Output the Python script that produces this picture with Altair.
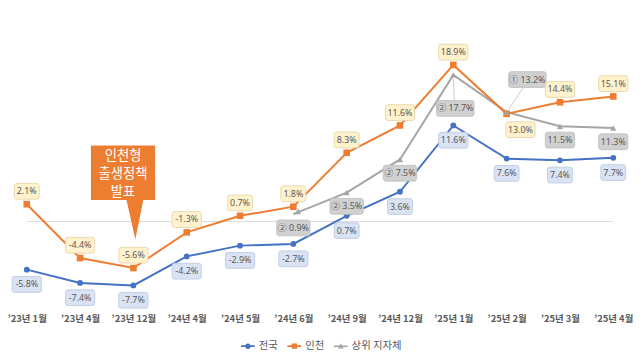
import altair as alt
import pandas as pd

# ---------------- data ----------------
categories = ["’23년 1월", "’23년 4월", "’23년 12월", "’24년 4월", "’24년 5월", "’24년 6월",
              "’24년 9월", "’24년 12월", "’25년 1월", "’25년 2월", "’25년 3월", "’25년 4월"]
national = [-5.8, -7.4, -7.7, -4.2, -2.9, -2.7, 0.7, 3.6, 11.6, 7.6, 7.4, 7.7]
incheon = [2.1, -4.4, -5.6, -1.3, 0.7, 1.8, 8.3, 11.6, 18.9, 13.0, 14.4, 15.1]
top_categories = categories[5:]
top_values = [0.9, 3.5, 7.5, 17.7, 13.2, 11.5, 11.3]
top_ranks = ["②", "②", "②", "②", "①", "", ""]
series_names = ["전국", "인천", "상위 지자체"]
callout_lines = ["인천형", "출생정책", "발표"]

# ---------------- style ----------------
BLUE, ORANGE, GRAY = "#4472C4", "#ED7D31", "#A5A5A5"
TEXT = "#595959"
FONT = "Noto Sans CJK KR"
NUMFONT = "Noto Sans, Noto Sans CJK KR, sans-serif"

nat_place = [(0, 15)] * 12
inc_place = [(0, -13)] * 9 + [(14, 16)] + [(0, -13)] * 2
top_place = [(0, 14), (0, 14), (0, 14), (2, 34), (21, -33), (0, 14), (0, 14)]
callout_dy = [-113, -95, -77]


def rbox(w, h, cx, cy, r=2.5):
    x0, x1 = cx - w / 2, cx + w / 2
    y0, y1 = cy - h / 2, cy + h / 2
    f = lambda v: f"{v:.1f}"
    return (f"M{f(x0 + r)},{f(y0)}H{f(x1 - r)}Q{f(x1)},{f(y0)},{f(x1)},{f(y0 + r)}"
            f"V{f(y1 - r)}Q{f(x1)},{f(y1)},{f(x1 - r)},{f(y1)}H{f(x0 + r)}"
            f"Q{f(x0)},{f(y1)},{f(x0)},{f(y1 - r)}V{f(y0 + r)}Q{f(x0)},{f(y0)},{f(x0 + r)},{f(y0)}Z")


def label_frame(cats, vals, labels, places, fill, stroke):
    rows = []
    for c, v, l, (dx, dy) in zip(cats, vals, labels, places):
        w = 8 + 4.3 * len(l)
        rows.append(dict(cat=c, value=v, label=l, dx=dx, dy=dy,
                         path=rbox(w, 16, dx, dy), fill=fill, stroke=stroke))
    return pd.DataFrame(rows)


nat_labels = [f"{v:.1f}%" for v in national]
inc_labels = [f"{v:.1f}%" for v in incheon]
top_labels = [(r + " " if r else "") + f"{v:.1f}%" for r, v in zip(top_ranks, top_values)]

lab_df = pd.concat([
    label_frame(top_categories, top_values, top_labels, top_place, "#D0D0D0", "#BDBDBD"),
    label_frame(categories, national, nat_labels, nat_place, "#DAE3F3", "#B9C6DE"),
    label_frame(categories, incheon, inc_labels, inc_place, "#FFF2CC", "#E3D3A3"),
], ignore_index=True)

nat_df = pd.DataFrame({"cat": categories, "value": national, "idx": range(len(categories))})
inc_df = pd.DataFrame({"cat": categories, "value": incheon, "idx": range(len(categories))})
top_df = pd.DataFrame({"cat": top_categories, "value": top_values, "idx": range(len(top_categories))})

xscale = alt.Scale(type="point", domain=categories, padding=0.352)
xaxis = alt.Axis(title=None, labelAngle=0, domain=False, ticks=False, grid=False,
                 labelFont=FONT, labelFontSize=9.5, labelFontWeight="bold",
                 labelColor=TEXT, labelPadding=9)
X = alt.X("cat:N", scale=xscale, axis=xaxis)
Y = alt.Y("value:Q", scale=alt.Scale(domain=[-10, 25.5], nice=False, zero=False), axis=None)

layers = []

# zero line from first to last category
zero_df = pd.DataFrame({"cat": [categories[0]], "cat2": [categories[-1]], "value": [0]})
layers.append(alt.Chart(zero_df).mark_rule(color="#D9D9D9", strokeWidth=1).encode(
    x=X, x2="cat2:N", y=Y))

# lines
for df, col in [(top_df, GRAY), (nat_df, BLUE), (inc_df, ORANGE)]:
    layers.append(alt.Chart(df).mark_line(color=col, strokeWidth=2).encode(
        x=X, y=Y, order="idx:Q"))

# markers
layers.append(alt.Chart(nat_df).mark_point(shape="circle", filled=True, size=34, color=BLUE,
                                           opacity=1).encode(x=X, y=Y))
layers.append(alt.Chart(inc_df).mark_point(shape="square", filled=True, size=45, color=ORANGE,
                                           opacity=1).encode(x=X, y=Y))
layers.append(alt.Chart(top_df.iloc[1:]).mark_point(shape="triangle-up", filled=True, size=40,
                                                    color=GRAY, opacity=1).encode(x=X, y=Y))
layers.append(alt.Chart(top_df.iloc[:1]).mark_point(shape="M0,0L7.6,0.2L5.4,-5.4Z", filled=True,
                                                    size=4, color=GRAY, opacity=1).encode(x=X, y=Y))

# leader lines for two gray labels
lead_df = pd.DataFrame({"cat": [top_categories[3], top_categories[4]],
                        "value": [top_values[3], top_values[4]],
                        "path": ["M0,4L1,26", "M2,-3L17,-25"]})
layers.append(alt.Chart(lead_df).mark_point(filled=False, size=4, color="#BFBFBF",
                                            strokeWidth=0.8, opacity=1).encode(
    x=X, y=Y, shape=alt.Shape("path:N", scale=None)))

# label boxes
layers.append(alt.Chart(lab_df).mark_point(filled=True, size=4, strokeWidth=0.8, opacity=1).encode(
    x=X, y=Y, shape=alt.Shape("path:N", scale=None),
    fill=alt.Fill("fill:N", scale=None), stroke=alt.Stroke("stroke:N", scale=None)))

# label texts
for (dx, dy), g in lab_df.groupby(["dx", "dy"]):
    layers.append(alt.Chart(g).mark_text(dx=float(dx), dy=float(dy), font=NUMFONT, fontSize=9,
                                         color=TEXT, align="center", baseline="middle").encode(
        x=X, y=Y, text="label:N"))

# callout
call_df = pd.DataFrame({"cat": [categories[2]], "value": [incheon[2]],
                        "path": ["M-43,-124H22V-69H10L2,-29L-7,-69H-43Z"]})
layers.append(alt.Chart(call_df).mark_point(filled=True, size=4, color=ORANGE, opacity=1,
                                            strokeWidth=0).encode(
    x=X, y=Y, shape=alt.Shape("path:N", scale=None)))
for line, dy in zip(callout_lines, callout_dy):
    layers.append(alt.Chart(call_df).mark_text(dx=-10.5, dy=dy, font=FONT, fontSize=13.5,
                                               color="white", align="center",
                                               baseline="middle").encode(
        x=X, y=Y, text=alt.value(line)))

# legend (no visible marks)
leg_paths = [
    "M-1,-0.13H1V0.13H-1ZM-0.4,0A0.4,0.4,0,1,1,0.4,0A0.4,0.4,0,1,1,-0.4,0Z",
    "M-1,-0.13H1V0.13H-1ZM-0.38,-0.38H0.38V0.38H-0.38Z",
    "M-1,-0.11H1V0.11H-1ZM0,-0.42L0.42,0.32L-0.42,0.32Z",
]
leg = alt.Legend(title=None, orient="none", legendX=236, legendY=333, direction="horizontal",
                 symbolSize=196, symbolStrokeWidth=0, labelFont=FONT, labelFontSize=10.5,
                 labelColor=TEXT, columnPadding=9, labelOffset=4)
leg_df = pd.DataFrame({"series": series_names})
layers.append(alt.Chart(leg_df).transform_filter("false").mark_point(filled=True, opacity=1).encode(
    color=alt.Color("series:N", scale=alt.Scale(domain=series_names, range=[BLUE, ORANGE, GRAY]),
                    legend=leg),
    shape=alt.Shape("series:N", scale=alt.Scale(domain=series_names, range=leg_paths), legend=leg)))

chart = alt.layer(*layers).properties(
    width=632, height=298,
    autosize=alt.AutoSizeParams(type="none"),
    padding={"left": 0, "top": 0, "right": 3, "bottom": 56},
    background="white",
).configure_view(stroke=None)

chart.save("out.html", embed_options={"renderer": "svg", "actions": False})
